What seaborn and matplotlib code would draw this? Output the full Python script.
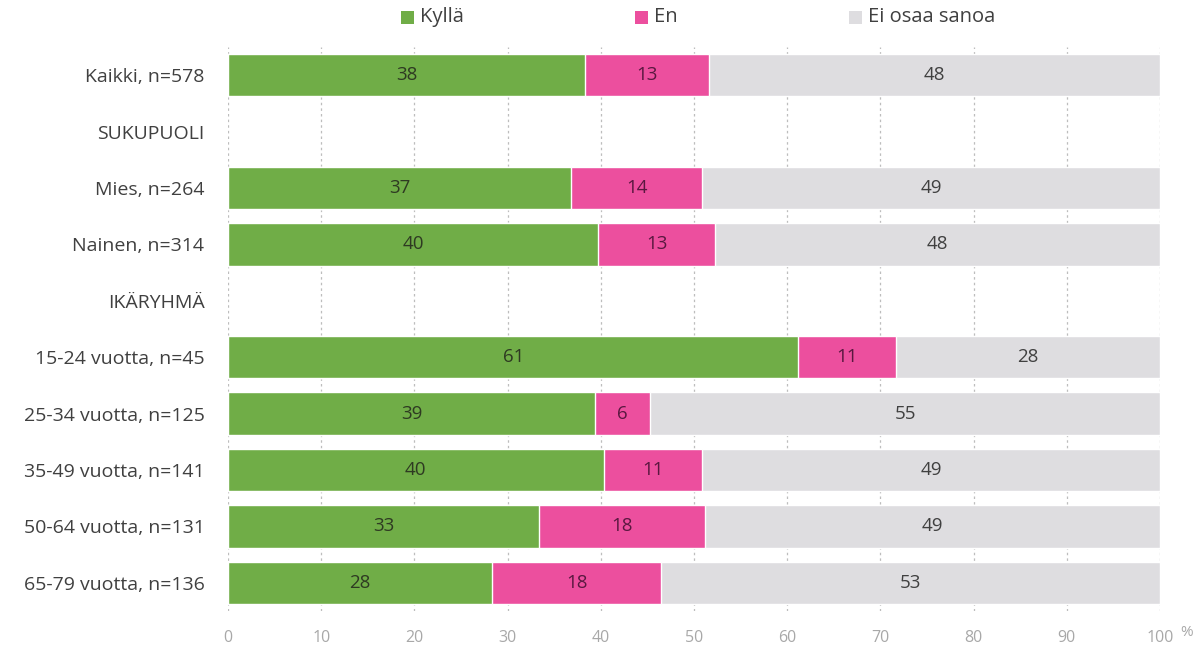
import matplotlib
matplotlib.use("Agg")
import matplotlib.pyplot as plt
import seaborn as sns
import numpy as np
import pandas as pd
from matplotlib.patches import Rectangle

categories = ["Kaikki, n=578", "SUKUPUOLI", "Mies, n=264", "Nainen, n=314", "IKÄRYHMÄ",
              "15-24 vuotta, n=45", "25-34 vuotta, n=125", "35-49 vuotta, n=141",
              "50-64 vuotta, n=131", "65-79 vuotta, n=136"]
kylla = [38.3, np.nan, 36.8, 39.7, np.nan, 61.2, 39.4, 40.3, 33.4, 28.3]
en = [13.3, np.nan, 14.1, 12.6, np.nan, 10.5, 5.9, 10.6, 17.8, 18.2]
eos = [48.4, np.nan, 49.1, 47.7, np.nan, 28.3, 54.7, 49.1, 48.8, 53.5]
kylla_lbl = [38, None, 37, 40, None, 61, 39, 40, 33, 28]
en_lbl = [13, None, 14, 13, None, 11, 6, 11, 18, 18]
eos_lbl = [48, None, 49, 48, None, 28, 55, 49, 49, 53]
series_names = ["Kyllä", "En", "Ei osaa sanoa"]
x_ticks = [0, 10, 20, 30, 40, 50, 60, 70, 80, 90, 100]

GREEN = "#70AD47"
PINK = "#EC4F9E"
GREY = "#DEDDE0"

sns.set_theme(style="white")
plt.rcParams["font.family"] = ["Open Sans", "DejaVu Sans"]

df = pd.DataFrame({"cat": categories, "k": kylla, "e": en, "o": eos})
df["c1"] = df["k"]
df["c2"] = df["k"] + df["e"]
df["c3"] = df["k"] + df["e"] + df["o"]

fig = plt.figure(figsize=(11.96, 6.45), dpi=100)
ax = fig.add_axes([228/1196, 1-611/645, (1160-228)/1196, (611-47)/645])

for col, color in [("c3", GREY), ("c2", PINK), ("c1", GREEN)]:
    sns.barplot(data=df, x=col, y="cat", order=categories, orient="h",
                color=color, width=0.75, saturation=1, ax=ax, zorder=3, errorbar=None)

ax.set_xlim(0, 100)
ax.set_ylim(len(categories) - 0.5, -0.5)
ax.set_xticks(x_ticks)
ax.set_xticklabels([str(t) for t in x_ticks], color="#A8A8A8", fontsize=11.5)
ax.set_xlabel("")
ax.set_ylabel("")
ax.tick_params(axis="y", length=0, pad=17, labelsize=14, labelcolor="#404040")
ax.tick_params(axis="x", length=0, pad=14)
for s in ax.spines.values():
    s.set_visible(False)
for t in x_ticks:
    ax.axvline(t, color="#BDBDBD", lw=0.9, ls=(0, (2, 2.5)), zorder=1)

for i in range(len(categories)):
    if kylla_lbl[i] is None:
        continue
    k, e, o = kylla[i], en[i], eos[i]
    ax.text(k/2, i, str(kylla_lbl[i]), ha="center", va="center", fontsize=13.5, color="#2E3A22", zorder=5)
    ax.text(k + e/2, i, str(en_lbl[i]), ha="center", va="center", fontsize=13.5, color="#5A1840", zorder=5)
    ax.text(k + e + o/2, i, str(eos_lbl[i]), ha="center", va="center", fontsize=13.5, color="#404040", zorder=5)

fig.text(1180/1196, 1-632/645, "%", color="#A8A8A8", fontsize=11, ha="left", va="center")

# legend
leg_items = [(401, series_names[0], GREEN), (635, series_names[1], PINK), (849, series_names[2], GREY)]
for x0, name, color in leg_items:
    fig.patches.append(Rectangle((x0/1196, 1-24/645), 13/1196, 13/645, transform=fig.transFigure,
                                 facecolor=color, edgecolor="none"))
    fig.text((x0+19)/1196, 1-17/645, name, fontsize=14.5, color="#404040", ha="left", va="center")

fig.savefig("out.png", dpi=100)
